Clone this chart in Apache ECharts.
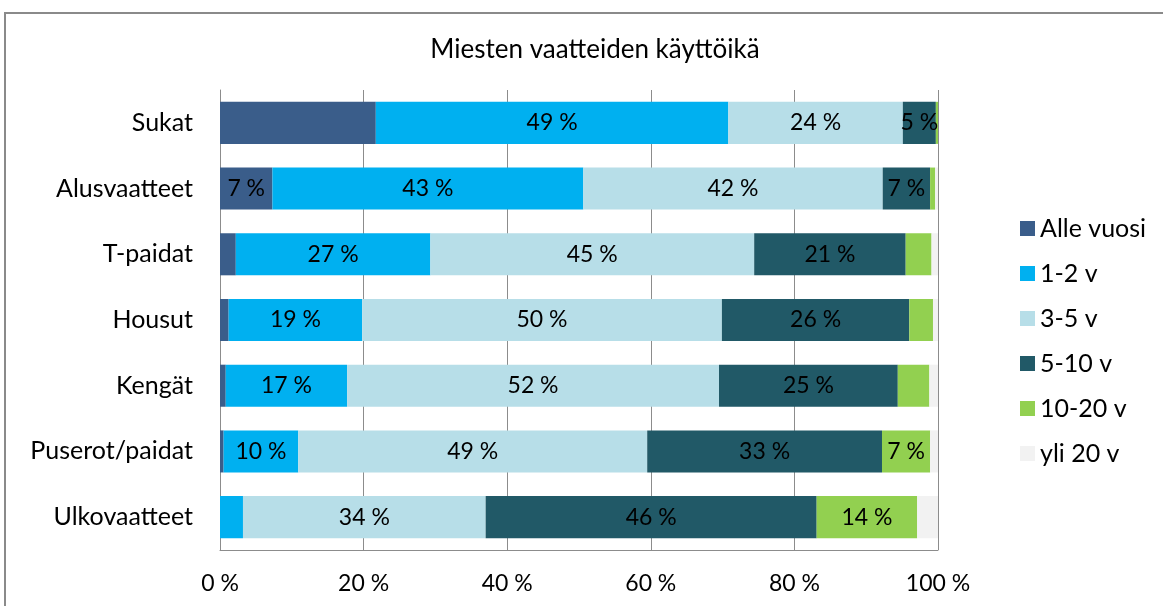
<!DOCTYPE html>
<html>
<head>
<meta charset="utf-8">
<script src="https://cdn.jsdelivr.net/npm/echarts@6/dist/echarts.min.js"></script>
<style>
  html, body { margin: 0; padding: 0; background: #fff; }
  #chart { width: 1163px; height: 606px; }
</style>
</head>
<body>
<div id="chart"></div>
<script>
var categories = ["Sukat", "Alusvaatteet", "T-paidat", "Housut", "Kengät", "Puserot/paidat", "Ulkovaatteet"];
var seriesNames = ["Alle vuosi", "1-2 v", "3-5 v", "5-10 v", "10-20 v", "yli 20 v"];
var alleVuosi = [21.7, 7.3, 2.2, 1.2, 0.8, 0.5, 0];
var v1to2 = [49.1, 43.3, 27.1, 18.6, 16.9, 10.4, 3.2];
var v3to5 = [24.3, 41.7, 45.1, 50.1, 51.8, 48.6, 33.8];
var v5to10 = [4.6, 6.6, 21.1, 26.1, 24.9, 32.7, 46.1];
var v10to20 = [0.3, 0.7, 3.6, 3.3, 4.4, 6.7, 14.0];
var yli20 = [0, 0.4, 0.9, 0.7, 1.2, 1.1, 2.9];
var xTicks = [0, 20, 40, 60, 80, 100];
// data labels hidden for these (series index, category index)
var hiddenLabels = [[0, 0]];

var colors = ["#3A5D8A", "#00B0F0", "#B7DEE8", "#215967", "#92D050", "#F2F2F2"];
var font = "Lato, 'Open Sans', sans-serif";

var chart = echarts.init(document.getElementById("chart"));
var allData = [alleVuosi, v1to2, v3to5, v5to10, v10to20, yli20];

var series = allData.map(function (arr, si) {
  return {
    name: seriesNames[si],
    type: "bar",
    stack: "total",
    barCategoryGap: "36%",
    itemStyle: { color: colors[si] },
    label: {
      show: true,
      position: "inside",
      color: "#000",
      fontFamily: font,
      fontSize: 23,
      formatter: function (p) {
        var hide = hiddenLabels.some(function (h) { return h[0] === si && h[1] === p.dataIndex; });
        if (hide || p.value < 4.5) return "";
        return Math.round(p.value) + " %";
      }
    },
    data: arr
  };
});

var option = {
  animation: false,
  title: {
    text: "Miesten vaatteiden käyttöikä",
    left: 590,
    textAlign: "center",
    top: 32,
    textStyle: { fontFamily: font, fontSize: 26, fontWeight: "normal", color: "#000" }
  },
  legend: {
    orient: "vertical",
    left: 1015,
    top: 211,
    itemWidth: 15,
    itemHeight: 15,
    itemGap: 20,
    icon: "rect",
    textStyle: { fontFamily: font, fontSize: 25, lineHeight: 25, color: "#000" },
    data: seriesNames
  },
  grid: { left: 220, right: 225, top: 90, bottom: 56 },
  xAxis: {
    type: "value",
    min: 0,
    max: 100,
    interval: 20,
    axisLine: { show: true, lineStyle: { color: "#8c8c8c", width: 1 } },
    axisTick: { show: false },
    splitLine: { show: true, lineStyle: { color: "#8c8c8c", width: 1 } },
    axisLabel: {
      color: "#000",
      fontFamily: font,
      fontSize: 23,
      margin: 22,
      customValues: xTicks,
      formatter: function (v) { return v + " %"; }
    }
  },
  yAxis: {
    type: "category",
    inverse: true,
    data: categories,
    axisLine: { show: true, lineStyle: { color: "#8c8c8c", width: 1 } },
    axisTick: { show: false },
    axisLabel: { color: "#000", fontFamily: font, fontSize: 25, margin: 27 }
  },
  graphic: [{
    type: "rect",
    shape: { x: 5, y: 13, width: 1220, height: 700 },
    style: { fill: null, stroke: "#8a8a8a", lineWidth: 2 },
    silent: true
  }],
  series: series
};

chart.setOption(option);
</script>
</body>
</html>
